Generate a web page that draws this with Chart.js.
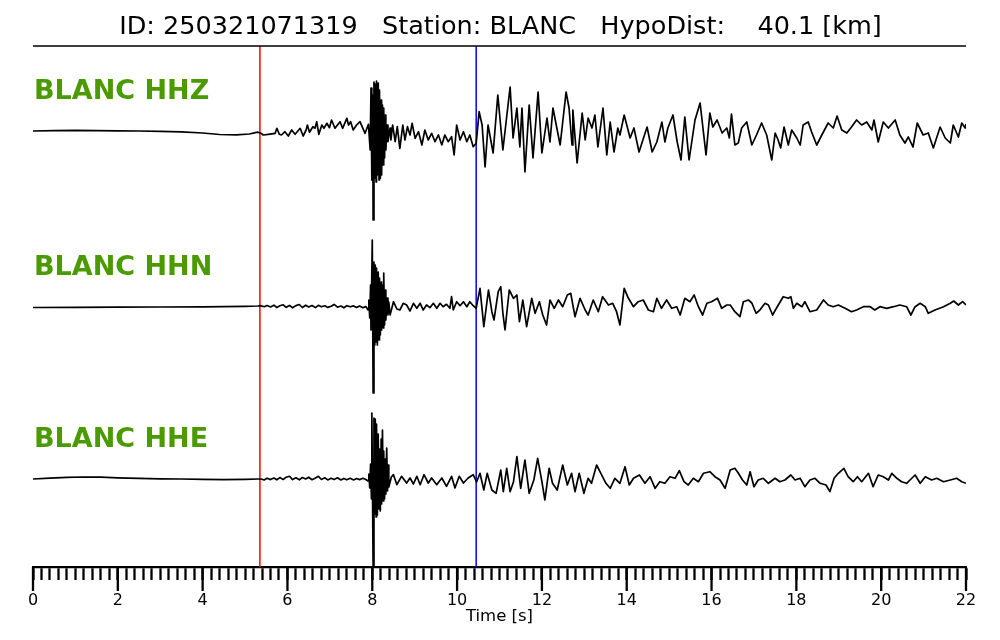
<!DOCTYPE html>
<html>
<head>
<meta charset="utf-8">
<script src="https://cdn.jsdelivr.net/npm/chart.js@4.4.1/dist/chart.umd.min.js"></script>
<style>
  html, body { margin: 0; padding: 0; background: #fff; }
  #wrap { width: 1000px; height: 640px; }
</style>
</head>
<body>
<div id="wrap"><canvas id="seisChart" width="1000" height="640"></canvas></div>
<script>
// header info
const eventId = '250321071319';
const stationName = 'BLANC';
const hypoDist = 40.1;

// picks [s]
const pPick = 5.35;
const sPick = 10.45;

// time axis [s]
const timeMin = 0;
const timeMax = 22;

// HHZ trace (time [s], amplitude)
const hhzTime = [0, 0.5, 1, 1.5, 2, 2.5, 3, 3.5, 4, 4.4, 4.8, 5.1, 5.3,
  5.38, 5.43, 5.55, 5.71, 5.75, 5.81, 5.86, 5.94, 6.02, 6.10, 6.18, 6.30, 6.37, 6.44, 6.47, 6.52, 6.60, 6.65, 6.69, 6.74, 6.81, 6.86, 6.93, 6.99, 7.04, 7.12, 7.18, 7.24, 7.30, 7.40, 7.44, 7.49, 7.55, 7.63, 7.71, 7.83, 7.91,
  7.95, 7.97, 7.99, 8.01, 8.02, 8.04, 8.06, 8.07, 8.09, 8.10, 8.12, 8.14, 8.16, 8.17, 8.19, 8.21, 8.22, 8.24, 8.26, 8.27, 8.29, 8.31, 8.32, 8.35,
  8.37, 8.42, 8.44, 8.48, 8.54, 8.59, 8.65, 8.72, 8.77, 8.83, 8.89, 8.94, 9.01, 9.09, 9.17, 9.24, 9.32, 9.40, 9.48, 9.56, 9.64, 9.71, 9.79, 9.87, 9.93, 9.99, 10.07, 10.15, 10.23, 10.30, 10.38, 10.45,
  10.52, 10.59, 10.66, 10.73, 10.85, 10.96, 11.08, 11.25, 11.32, 11.41, 11.48, 11.53, 11.60, 11.70, 11.79, 11.91, 12.00, 12.12, 12.19, 12.26, 12.43, 12.57, 12.64, 12.71, 12.73, 12.83, 12.95, 13.02, 13.09, 13.18, 13.25, 13.32, 13.44, 13.53, 13.61, 13.70, 13.79, 13.84, 13.94, 14.08, 14.17, 14.29, 14.48, 14.60, 14.71, 14.83, 14.90, 14.97, 15.09, 15.19, 15.28, 15.37, 15.47, 15.61, 15.73, 15.87, 15.96, 16.03, 16.13, 16.25, 16.36,
  16.42, 16.47, 16.55, 16.63, 16.71, 16.83, 16.95, 17.06, 17.18, 17.30, 17.42, 17.50, 17.57, 17.63, 17.71, 17.81, 17.89, 18.01, 18.09, 18.16, 18.28, 18.36, 18.48, 18.60, 18.75, 18.87, 18.96, 19.07, 19.19, 19.30, 19.42, 19.54, 19.66, 19.78, 19.83, 19.93, 20.05, 20.17, 20.33, 20.44, 20.56, 20.64, 20.75, 20.85, 20.99, 21.11, 21.23, 21.39, 21.51, 21.63, 21.70, 21.82, 21.90, 21.98, 22.0];
const hhzAmp = [0, 0.4, 0.6, 0.3, 0.1, 0, -0.3, -0.8, -2, -3.5, -3.8, -3, -1.2,
  -2.3, -4, -3.3, -2.3, 2.7, -3.3, -4, -0.7, -5, 1, -3.3, 2.7, -5, 1, 6, -1.3, 4.3, 2.7, 9.3, -3.3, 6, 2.7, 7.7, 3.3, 11, 2.7, 6, 9.3, 2.7, 12.7, 6, 9.3, 1, 6, 9.3, -2.3, 6.7,
  -19, 43, -49, 36, -89, 49, -47, 47, -51, 50, -44, 48, -49, 41, -47, 31, -44, 26, -34, 23, -27, 16, -19, 6,
  -10.7, 3, -9, 6, -10.7, 4.3, -17.3, 6, -9, 4.3, -4, 7.7, -7.3, -0.7, -14, 1, -9, -2.3, -10.7, -4, -14, -4, -10.7, -5.7, -24, 6, -9, -0.7, -10.7, -4, -15.7, -12.3,
  19.3, 6, -36, 6, -22, 36, -19, 44, -7, 23, -16, 23, -41, 26, -27, 39, -22, 13, -11, 23, -14, 39, 23, -14, 21, -32, 18, -9, 13, 3, 16, -16, 23, -24, 9, -21, 3, -4, 16, -7, 3, -21, 4, -21, -11, 9, -11, 3, 16, -11, -29, 14, -29, 11, 28, -24, 18, 4, 11, -2, 3,
  -7, 17, -14, -12, 3, 9, -14, -4, 8, -4, -29, -2, -9, -17, 4, -14, 1, -7, -14, 6, 9, -1, -14, -4, 8, 3, 15, 1, -2, 4, 11, 6, 9, 1, 11, -11, 9, 3, 11, -4, -12, -6, -16, 8, -4, -2, -17, 4, -7, -12, 6, -6, 8, 3, 7];

// HHN trace
const hhnTime = [0, 1, 2, 3, 4, 4.5, 5, 5.3,
  5.38, 5.45, 5.52, 5.6, 5.68, 5.75, 5.82, 5.9, 5.97, 6.05, 6.12, 6.2, 6.28, 6.35, 6.43, 6.5, 6.58, 6.66, 6.73, 6.8, 6.88, 6.95, 7.03, 7.1, 7.18, 7.26, 7.33, 7.4, 7.48, 7.56, 7.63, 7.7, 7.78, 7.85,
  7.90, 7.92, 7.94, 7.96, 7.97, 8.00, 8.02, 8.04, 8.06, 8.07, 8.09, 8.10, 8.12, 8.14, 8.16, 8.17, 8.19, 8.21, 8.22, 8.24, 8.26, 8.27, 8.29, 8.31, 8.32, 8.35, 8.37, 8.39,
  8.42, 8.50, 8.58, 8.65, 8.73, 8.81, 8.89, 8.97, 9.05, 9.13, 9.20, 9.28, 9.36, 9.44, 9.52, 9.60, 9.67, 9.75, 9.83, 9.87, 9.91, 9.99, 10.07, 10.15, 10.23, 10.30, 10.38, 10.45,
  10.54, 10.63, 10.74, 10.82, 10.87, 10.97, 11.03, 11.08, 11.13, 11.23, 11.33, 11.41, 11.47, 11.55, 11.64, 11.76, 11.84, 11.94, 12.02, 12.11, 12.19, 12.29, 12.39, 12.49, 12.60, 12.68, 12.78, 12.90, 13.02, 13.09, 13.21, 13.33, 13.43, 13.57, 13.67, 13.76, 13.84, 13.94, 14.04, 14.16, 14.27, 14.39, 14.51, 14.63, 14.71, 14.82, 14.94, 15.06, 15.18, 15.26, 15.37, 15.49, 15.59, 15.69, 15.79, 15.89, 16.00, 16.14, 16.24, 16.36,
  16.44, 16.55, 16.67, 16.75, 16.87, 16.95, 17.05, 17.14, 17.26, 17.34, 17.44, 17.55, 17.69, 17.81, 17.87, 17.93, 18.01, 18.13, 18.20, 18.32, 18.48, 18.64, 18.75, 18.87, 18.99, 19.15, 19.30, 19.42, 19.58, 19.74, 19.85, 19.97, 20.13, 20.29, 20.44, 20.60, 20.70, 20.80, 20.92, 21.04, 21.11, 21.27, 21.47, 21.63, 21.71, 21.82, 21.92, 22.0];
const hhnAmp = [-0.5, -0.4, -0.2, 0, 0.2, 0.4, 0.6, 1,
  1.3, 0.3, 1.5, 0, 1.8, -0.5, 1.2, 2.2, -0.3, 1.6, -0.8, 1.4, 2.5, -0.5, 1.8, 0, 1.5, -0.6, 1.7, 0.2, 1.2, -0.4, 0.8, 2.6, -0.2, 1, -0.8, 1.3, 0.2, 1.1, -0.6, 0.9, -0.8, 0.5,
  -3, 7, -11, 22, -23, 67, -86, 45, -38, 42, -35, 39, -38, 35, -33, 29, -28, 25, -23, 22, -21, 34, -18, 17, -13, 9, -8, 5,
  -8, 5.3, -2, -3, 3.7, 2, -4, 3.7, -1.3, 3.7, -3, 2, -0.7, 3.7, -1.3, 3.7, 0.3, 2.7, -1.3, 10.3, -3, 5.3, 1.3, 5.3, 0.3, 5.3, 1.3, -1.3,
  18.7, -19.7, 17, -4.7, -13, 15.3, 20.3, -6.3, -23, 17, 8.7, 12, -14.7, 7, -19.7, 8.7, -6.3, 5.3, -8, -18, 7, -1.3, 7, 0.3, 12, 13.7, -9.7, 8.7, -3, -8, 7, -4.7, 10.3, 2, 3.7, -4.7, -18, 18.7, 8.7, 0.3, 5.3, 7, -3, -4.7, 8.7, -1.3, 7, -1.3, 0.3, -8, 8.7, 5.3, 12, 0.3, -8, 3.7, 5.3, 8.7, -1.3, 2,
  2, -4.7, -9.7, 5.3, 7, 4, -6.3, -3, 3.7, 2, -8, 0.3, 10.3, 8.7, 10.3, -1.3, 3.7, 0.3, 5.3, -4.7, -3, 7, 2, 0.3, 2, -1.3, -4.7, -3, 0.3, 0.3, -3, 0.3, -1.3, 0.3, 2, 0.3, -8, 0.3, 3.7, 0.3, -6.3, -3, 0.3, 3.7, 6, 2, 5.3, 2];

// HHE trace
const hheTime = [0, 0.4, 0.8, 1.2, 1.6, 2.0, 2.5, 3, 3.5, 4, 4.5, 5, 5.3,
  5.38, 5.45, 5.52, 5.6, 5.68, 5.75, 5.82, 5.9, 5.97, 6.05, 6.12, 6.2, 6.28, 6.35, 6.43, 6.5, 6.58, 6.66, 6.73, 6.8, 6.88, 6.95, 7.03, 7.1, 7.18, 7.26, 7.33, 7.4, 7.48, 7.56, 7.63, 7.7, 7.78, 7.85,
  7.90, 7.92, 7.94, 7.96, 7.98, 7.99, 8.02, 8.04, 8.06, 8.07, 8.09, 8.10, 8.12, 8.14, 8.16, 8.17, 8.19, 8.21, 8.22, 8.24, 8.26, 8.27, 8.29, 8.31, 8.32, 8.34, 8.36, 8.38, 8.39,
  8.45, 8.50, 8.58, 8.69, 8.81, 8.89, 8.97, 9.05, 9.13, 9.22, 9.32, 9.40, 9.52, 9.64, 9.75, 9.87, 9.95, 10.05, 10.15, 10.26, 10.38, 10.46,
  10.54, 10.63, 10.71, 10.82, 10.92, 11.03, 11.09, 11.17, 11.25, 11.33, 11.41, 11.50, 11.60, 11.70, 11.81, 11.90, 12.00, 12.07, 12.17, 12.25, 12.36, 12.49, 12.60, 12.70, 12.78, 12.88, 12.99, 13.09, 13.17, 13.29, 13.39, 13.51, 13.61, 13.72, 13.84, 13.96, 14.06, 14.16, 14.30, 14.43, 14.55, 14.67, 14.78, 14.90, 15.02, 15.14, 15.24, 15.35, 15.45, 15.57, 15.69, 15.81, 15.96, 16.08,
  16.20, 16.32, 16.44, 16.55, 16.63, 16.73, 16.83, 16.91, 17.00, 17.10, 17.22, 17.34, 17.50, 17.61, 17.73, 17.87, 17.97, 18.09, 18.20, 18.32, 18.44, 18.56, 18.70, 18.79, 18.89, 18.99, 19.12, 19.22, 19.34, 19.44, 19.54, 19.70, 19.81, 19.93, 20.05, 20.17, 20.25, 20.37, 20.48, 20.60, 20.68, 20.80, 20.92, 21.04, 21.19, 21.31, 21.47, 21.63, 21.78, 21.90, 22.0];
const hheAmp = [0, 0.8, 1.6, 2, 1.8, 1.2, 0.6, 0.2, 0, -0.4, -0.6, -0.4, 0,
  0, -1, 0.8, -0.6, 1, -0.8, 1.4, -0.5, 1.8, 2.7, -0.6, 1.2, -0.8, 1.5, 0, 1.8, -0.7, 1, 2.7, -0.5, 1.2, -0.9, 0.8, -0.6, 1.3, -1, 0.6, -0.8, 0.7, -0.9, 0.5, -0.6, 0.8, -0.5,
  -2, 5, -9, 15, -20, 66, -87, 61, -35, 60, -38, 55, -36, 45, -30, 30, -32, 40, -25, 49, -22, 28, -20, 20, -15, 31, -12, 14, -8,
  2, 4.3, -5.7, 2.7, -4, 1, -5, 2.7, -5.7, 4.3, -4, 1, -5.7, 1, -7.3, 2.7, -9, 2.7, -4, 1, 4.3, -3,
  5.7, -11, 5.7, -11, -14.3, 9, -12.7, 10.7, -12.7, -2.7, 22.3, -9.3, 19, -14.3, -1, 20.7, -2.7, -21, 10.7, -4.3, -11, 14, -6, 5.7, -12.7, 5.7, -14.3, 0.7, -4.3, 14, 5.7, -4.3, -9.3, 0.7, -4.3, 12.3, -6, 0.7, 4, -4.3, 2.3, -9.3, -2.7, -4.3, 2.3, 0.7, 8.3, -2.7, -6, 0.7, -2.7, 5.7, 7.3, 2.3,
  -1, -9.3, 9, 10.7, 6, -1, -6, 7.3, -7.7, -1, 0.7, -4.3, 0.7, -2.7, -1, 4, -1, 0.7, -7.7, -1, 0.7, -4.3, -6, -12.7, 0.7, 5.7, 10.7, 2.3, -2.7, 2.3, -2.7, 5.7, -7.7, 4, 2.3, -1, 5.7, 0.7, -2.7, -4.3, -1, 4, -4.3, 2.3, -1, 0.7, -2.7, -1, 0.7, -2.7, -4.3];

const traces = [
  { name: stationName + ' HHZ', time: hhzTime, amp: hhzAmp, offset: 436 },
  { name: stationName + ' HHN', time: hhnTime, amp: hhnAmp, offset: 260 },
  { name: stationName + ' HHE', time: hheTime, amp: hheAmp, offset: 88 }
];
const yTop = 521;

const datasets = traces.map(tr => ({
  label: tr.name,
  data: tr.time.map((t, i) => ({ x: t, y: tr.amp[i] + tr.offset })),
  borderColor: '#000000',
  borderWidth: 1.7,
  pointRadius: 0,
  tension: 0,
  borderJoinStyle: 'round',
  order: 0
}));
datasets.push({
  label: 'P', data: [{ x: pPick, y: 0 }, { x: pPick, y: yTop }],
  borderColor: '#ff0000', borderWidth: 1.5, pointRadius: 0, order: 1
});
datasets.push({
  label: 'S', data: [{ x: sPick, y: 0 }, { x: sPick, y: yTop }],
  borderColor: '#0000ff', borderWidth: 1.5, pointRadius: 0, order: 1
});

// titulo, linea superior, ticks mayores y nombres de canal
const overlayPlugin = {
  id: 'overlay',
  afterDraw(chart) {
    const { ctx, chartArea, scales } = chart;
    ctx.save();
    ctx.fillStyle = '#000';
    ctx.font = '25.5px "DejaVu Sans"';
    ctx.textAlign = 'center';
    ctx.textBaseline = 'middle';
    const title = 'ID: ' + eventId + '   Station: ' + stationName + '   HypoDist:    ' + hypoDist.toFixed(1) + ' [km]';
    ctx.fillText(title, (chartArea.left + chartArea.right) / 2 + 1, 27);

    ctx.strokeStyle = '#000';
    ctx.lineWidth = 1.5;
    ctx.beginPath();
    ctx.moveTo(chartArea.left, chartArea.top);
    ctx.lineTo(chartArea.right, chartArea.top);
    ctx.stroke();

    // major ticks longer
    ctx.lineWidth = 2.3;
    for (let v = timeMin; v <= timeMax; v += 2) {
      const px = scales.x.getPixelForValue(v);
      ctx.beginPath();
      ctx.moveTo(px, chartArea.bottom);
      ctx.lineTo(px, chartArea.bottom + 24);
      ctx.stroke();
    }

    ctx.fillStyle = '#4a9a00';
    ctx.font = 'bold 27px "DejaVu Sans"';
    ctx.textAlign = 'left';
    traces.forEach(tr => {
      ctx.fillText(tr.name, chartArea.left + 1, scales.y.getPixelForValue(tr.offset + 39));
    });
    ctx.restore();
  }
};

new Chart(document.getElementById('seisChart').getContext('2d'), {
  type: 'line',
  data: { datasets: datasets },
  options: {
    responsive: false,
    animation: false,
    devicePixelRatio: 1,
    layout: { padding: { top: 46, left: 33, right: 34, bottom: 0 } },
    plugins: { legend: { display: false }, tooltip: { enabled: false } },
    scales: {
      x: {
        type: 'linear',
        min: timeMin,
        max: timeMax,
        afterFit: (scale) => { scale.height = 73; },
        border: { display: true, color: '#000', width: 2.3 },
        grid: { drawOnChartArea: false, drawTicks: true, tickLength: 13, tickWidth: 2.3, tickColor: '#000' },
        ticks: {
          stepSize: 0.2,
          autoSkip: false,
          maxRotation: 0,
          padding: 11,
          color: '#000',
          font: { family: 'DejaVu Sans', size: 16 },
          callback: (value) => {
            const v = Math.round(value * 10) / 10;
            return Math.abs(v % 2) < 1e-6 ? String(v) : '';
          }
        },
        title: {
          display: true,
          text: 'Time [s]',
          color: '#000',
          font: { family: 'DejaVu Sans', size: 16.5 },
          padding: { top: 0, bottom: 13 }
        }
      },
      y: { type: 'linear', display: false, min: 0, max: yTop }
    }
  },
  plugins: [overlayPlugin]
});
</script>
</body>
</html>
